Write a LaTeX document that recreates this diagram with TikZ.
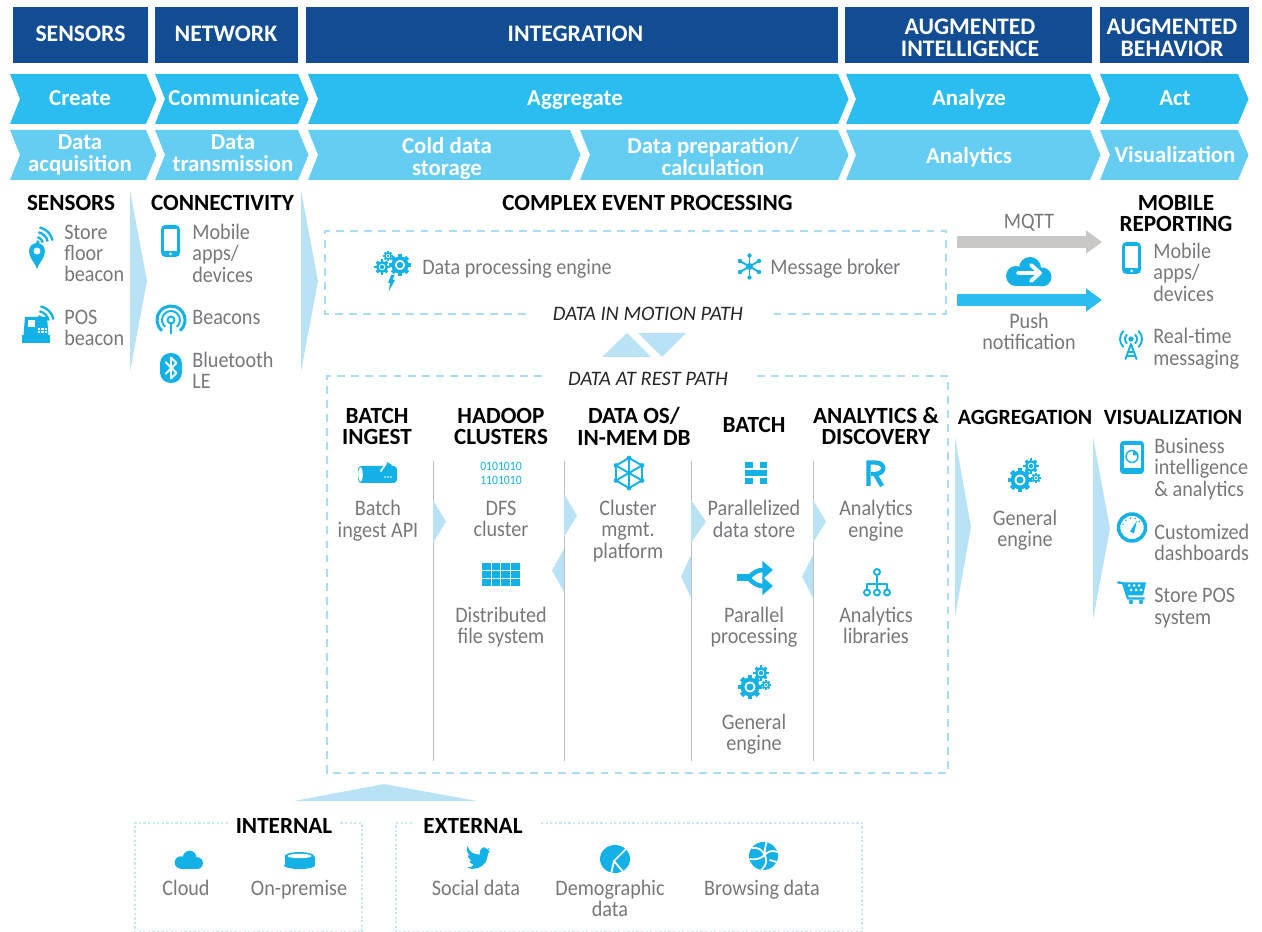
\documentclass[tikz,border=0pt]{standalone}
\usepackage{fontspec}
\setmainfont{Carlito}
\newfontfamily\bodyfont[FakeStretch=.91]{Carlito}
\usetikzlibrary{arrows.meta}
\definecolor{headblue}{HTML}{124C93}
\definecolor{rowblue}{HTML}{2CBDF0}
\definecolor{rowlight}{HTML}{66CDF2}
\definecolor{flowblue}{HTML}{B9E2F5}
\definecolor{dashblue}{HTML}{A9DDF3}
\definecolor{dotblue}{HTML}{C6E7F4}
\definecolor{iconblue}{HTML}{14B1E7}
\definecolor{bodygrey}{HTML}{77787B}
\definecolor{rulegrey}{HTML}{BCBEC0}
\definecolor{mqttgrey}{HTML}{C9C8C6}
\tikzset{
  strutted/.style={execute at begin node=\strut,execute at end node=\strut},
  textdrop/.style={strutted,yshift=-1.7pt},
  headtext/.style={text=white,font=\fontsize{13.5}{12.4}\selectfont\bfseries,align=center,inner sep=0pt,strutted},
  chevtext/.style={text=white,font=\fontsize{13}{12.4}\selectfont\bfseries,align=center,inner sep=0pt,strutted},
  title/.style={text=black,font=\fontsize{13.2}{12.2}\selectfont\bfseries,align=center,inner sep=0pt,textdrop},
  body/.style={text=bodygrey,font=\bodyfont\fontsize{12.6}{12.2}\selectfont,align=center,inner sep=0pt,textdrop},
  bodyleft/.style={body,align=left,anchor=west},
  pathtext/.style={text=black!85,font=\fontsize{11.7}{12.2}\selectfont\itshape,inner sep=0pt,textdrop},
  boxdash/.style={draw=dashblue,line width=1.1pt,dash pattern=on 4.5pt off 3.5pt},
  boxdot/.style={draw=dotblue,line width=.8pt,dash pattern=on 1.3pt off 1.3pt},
  bigarrow/.style={line width=6.8pt,-{Triangle[length=9pt,width=12.6pt]}},
  icon/.style={draw=iconblue,line width=1.1pt,line cap=round,line join=round},
  icontk/.style={icon,line width=1.7pt},
  gearwheel/.pic={
    \draw[icon,line width=#1*.2pt] (0,0) circle[radius=#1*.68];
    \fill[iconblue] (0,0) circle[radius=#1*.32];
    \foreach \a in {0,45,...,315} \draw[iconblue,line width=#1*.24pt] (\a:#1*.7) -- (\a:#1*1.08);
  },
  gearset/.pic={
    \pic at (-4,3) {gearwheel=11};
    \pic at (7,-11) {gearwheel=7};
    \pic at (12,1) {gearwheel=4.5};
  },
  sparkgears/.pic={
    \pic at (7,-5) {gearwheel=10};
    \pic at (-11,-3) {gearwheel=7};
    \pic at (-5,-14) {gearwheel=4.5};
    \fill[iconblue] (-2,5) -- (-5,13) -- (-3,13) -- (-4,21) -- (2,10) -- (-.5,10) -- (1.5,5) -- cycle;
  },
  wifiarcs/.pic={
    \foreach \r in {7,12,17} \draw[icon,line cap=butt,line width=1.3pt] (-78:\r) arc[start angle=-78,end angle=-12,radius=\r];
    \fill[iconblue] (0,0) -- (-78:4) arc[start angle=-78,end angle=-12,radius=4] -- cycle;
  },
  pinmark/.pic={
    \fill[iconblue,even odd rule] (0,14) .. controls (-3,6) and (-8,3) .. (-8,-4) arc[start angle=180,end angle=360,radius=8] .. controls (8,3) and (3,6) .. (0,14) -- cycle (0,-4) circle[radius=3.6];
  },
  register/.pic={
    \fill[iconblue] (-14,5) rectangle (14,13);
    \fill[iconblue] (-12.5,5) -- (-11,-13) -- (11,-13) -- (12.5,5) -- cycle;
    \fill[white] (-8,-10) rectangle (-1,-3);
    \foreach \i in {0,1,2} \foreach \j in {0,1} \fill[white] (2+\i*3.3,-2+\j*3.3) rectangle ++(2.2,2.2);
  },
  phoneshape/.pic={
    \fill[iconblue,rounded corners=2.5pt] (-9.5,-16) rectangle (9.5,16);
    \fill[white] (-6.5,-12) rectangle (6.5,10);
    \fill[white] (0,13) circle[radius=1.5];
  },
  beaconring/.pic={
    \draw[icontk,line cap=butt] (130:14) arc[start angle=130,end angle=410,radius=14];
    \draw[icon,line cap=butt] (130:9) arc[start angle=130,end angle=410,radius=9];
    \draw[icon] (0,0) circle[radius=3.5];
    \draw[icontk,line cap=butt] (0,2) -- (0,14);
  },
  bluetoothtag/.pic={
    \fill[iconblue,rounded corners=6pt] (-11,-15) rectangle (11,15);
    \draw[white,line width=1.1pt,line join=round] (-5.5,-6) -- (5.5,5) -- (0,10.5) -- (0,-10.5) -- (5.5,-5) -- (-5.5,6);
  },
  asterisk/.pic={
    \foreach \a in {30,90,...,330} {\draw[icon] (0,0) -- (\a:11); \fill[iconblue] (\a:11) circle[radius=2.2];}
    \fill[iconblue] (0,0) circle[radius=3.5];
  },
  cloudshape/.pic={
    \fill[iconblue] (-13,4) circle[radius=10];
    \fill[iconblue] (13,5) circle[radius=9.5];
    \fill[iconblue] (1,-4) circle[radius=11];
    \fill[iconblue] (-13,5) rectangle (13,14.5);
  },
  antenna/.pic={
    \draw[icon] (0,-3) -- (-5.5,12) (0,-3) -- (5.5,12) (-3.5,5) -- (3.5,5) (-4.5,9) -- (4.5,9);
    \fill[iconblue] (0,-8) circle[radius=2.7];
    \foreach \r in {6,11} {\draw[icon] (-45:\r)++(0,-8) arc[start angle=-45,end angle=45,radius=\r]; \draw[icon] (135:\r)++(0,-8) arc[start angle=135,end angle=225,radius=\r];}
  },
  pipeicon/.pic={
    \fill[iconblue,rounded corners=2pt] (-19,-8) rectangle (20,9);
    \fill[white] (-16.5,.5) ellipse[x radius=2.3,y radius=7];
    \fill[iconblue] (5,-4) -- (10,-12) -- (15,-9) -- (9,-2) -- cycle;
    \draw[white,line width=1pt] (3.5,-2.5) -- (9.5,-11);
    \foreach \i in {8,11,14} \fill[white] (\i,3) circle[radius=.8];
  },
  gridicon/.pic={
    \foreach \i in {0,1,2,3} \foreach \j in {0,1,2} \fill[iconblue] (-19+\i*9.6,-11.5+\j*8) rectangle ++(8.8,7);
  },
  hexnet/.pic={
    \draw[icon] (90:15) -- (30:15) -- (-30:15) -- (-90:15) -- (-150:15) -- (150:15) -- cycle;
    \draw[icon] (90:15) -- (-90:15) (30:15) -- (-150:15) (-30:15) -- (150:15);
    \foreach \a in {30,90,...,330} \fill[iconblue] (\a:15) circle[radius=2.4];
  },
  storeblock/.pic={
    \fill[iconblue] (-11,-11) rectangle (-3,-5);
    \fill[iconblue] (4,-11) rectangle (11,-5);
    \fill[iconblue] (-11,-2.5) rectangle (11,3);
    \fill[iconblue] (-11,5) rectangle (-3,11);
    \fill[iconblue] (4,5) rectangle (11,11);
  },
  splitarrow/.pic={
    \fill[iconblue] (-19,-3.5) rectangle (-6,3.5);
    \draw[iconblue,line width=2.6pt,-{Triangle[length=6pt,width=10pt]}] (-8,1) .. controls (-3,-6) and (2,-8) .. (17,-8);
    \draw[iconblue,line width=2.6pt,-{Triangle[length=6pt,width=10pt]}] (-8,-1) .. controls (-3,6) and (2,8) .. (17,8);
  },
  rmark/.pic={
    \draw[iconblue,line width=2.5pt] (-6.5,13) -- (-6.5,-10.5) -- (0,-10.5) .. controls (11,-10.5) and (11,1) .. (0,1) -- (-4,1);
    \draw[iconblue,line width=2.5pt] (0,1) -- (7,13);
  },
  treeicon/.pic={
    \draw[icon,line width=1.2pt] (0,-10) -- (0,8) (-10,8) -- (-10,2) -- (10,2) -- (10,8);
    \foreach \p/\q in {0/-10,-10/10.5,0/10.5,10/10.5} \draw[icon,line width=1.1pt,fill=white] (\p,\q) circle[radius=3];
  },
  tableticon/.pic={
    \fill[iconblue,rounded corners=2pt] (-12,-16.5) rectangle (12,16.5);
    \fill[white] (-8.5,-12) rectangle (8.5,10.5);
    \draw[icon,line width=.8pt] (0,-1) circle[radius=6];
    \fill[iconblue] (1,-2) -- (1,-7) arc[start angle=-90,end angle=0,radius=5] -- cycle;
  },
  gaugeicon/.pic={
    \draw[icontk,line width=2pt] (0,0) circle[radius=13.5];
    \foreach \a in {-160,-130,...,-20} \fill[iconblue] (\a:9.5) circle[radius=.9];
    \fill[iconblue] (-2,4) -- (5,-7) -- (2,6) -- cycle;
  },
  carticon/.pic={
    \draw[icon,line width=1.3pt] (-14,-10) -- (-9,-9.5) -- (-4,6) -- (12,6);
    \fill[iconblue] (-8,-10) -- (14,-10) -- (11,3) -- (-4,3) -- cycle;
    \foreach \i/\j in {-3/-7,2/-7,7/-7,-1/-2.5,4/-2.5,9/-2.5} \fill[white] (\i,\j) circle[radius=1.5];
    \fill[iconblue] (-1,9.5) circle[radius=2.2];
    \fill[iconblue] (9,9.5) circle[radius=2.2];
  },
  discicon/.pic={
    \fill[iconblue] (-15,-4) rectangle (15,5);
    \fill[iconblue] (0,-4) ellipse[x radius=15,y radius=4.5];
    \fill[iconblue] (0,5) ellipse[x radius=15.5,y radius=3.5];
    \fill[white] (0,-4.5) ellipse[x radius=12,y radius=2.2];
  },
  birdicon/.pic={
    \fill[iconblue] (-11,-14) .. controls (-9,-7) and (-4,-4) .. (3,-4) .. controls (3,-11) and (8,-16) .. (12,-10) -- (15,-12) -- (13,-8) -- (15,-8) .. controls (12,-6) and (13,0) .. (10,5) .. controls (6,12) and (-5,15) .. (-12,11) .. controls (-7,11) and (-5,10) .. (-4,8) .. controls (-7,7) and (-9,5) .. (-9,3) -- (-6,3) .. controls (-10,1) and (-11,-2) .. (-11,-3) -- (-8,-3) .. controls (-12,-6) and (-13,-10) .. (-11,-14) -- cycle;
  },
  pieicon/.pic={
    \fill[iconblue] (0,0) ellipse[x radius=15,y radius=14];
    \draw[white,line width=1pt] (12,-11) -- (-1,2) -- (9,14) (-1,2) -- (-4,15);
  },
  globeicon/.pic={
    \fill[iconblue] (0,0) ellipse[x radius=14.5,y radius=14];
    \draw[white,line width=1pt] (-12,-8) .. controls (-5,-9) and (-1,-6) .. (1,-1) .. controls (-3,3) and (-8,4) .. (-14,3) (1,-1) .. controls (5,-5) and (9,-6) .. (14,-4) (1,-1) .. controls (4,4) and (3,9) .. (-2,14) (3,-14) .. controls (2,-10) and (1,-5) .. (1,-1) (6,4) -- (13,6);
  },
}
\newcommand{\headbar}[5]{
  \fill[headblue] (#2,7) rectangle (#3,63.5);
  \node[headtext] (#1) at (#4) {#5};
}
\newcommand{\chevron}[6]{
  \fill[#1] (#3,#5) -- (#3+10,#5+25) -- (#3,#5+50) -- (#4,#5+50) -- (#4+10.5,#5+25) -- (#4,#5) -- cycle;
  \node[chevtext] (#2) at #6;
}
\newcommand{\flowtri}[4]{
  \fill[flowblue] (#1,#2) -- (#4,#2/2+#3/2) -- (#1,#3) -- cycle;
}
\begin{document}
\begin{tikzpicture}[x=0.02cm,y=-0.02cm]
    \useasboundingbox (0,0) rectangle (1262,932);
    \headbar{headSensors}{13}{148}{80.5,37}{SENSORS}
    \headbar{headNetwork}{155}{298}{226,37}{NETWORK}
    \headbar{headIntegration}{306}{838}{575.5,37}{INTEGRATION}
    \headbar{headIntelligence}{845}{1092}{970,41}{AUGMENTED\\INTELLIGENCE}
    \headbar{headBehavior}{1100}{1249}{1172,41}{AUGMENTED\\BEHAVIOR}
    \chevron{rowblue}{create}{10}{146}{74}{(80,101) {Create}}
    \chevron{rowblue}{communicate}{155}{298}{74}{(234,101) {Communicate}}
    \chevron{rowblue}{aggregate}{308}{838}{74}{(575,101) {Aggregate}}
    \chevron{rowblue}{analyze}{846}{1090}{74}{(969,101) {Analyze}}
    \chevron{rowblue}{act}{1100}{1238}{74}{(1175,101) {Act}}
    \chevron{rowlight}{acquisition}{10}{146}{130}{(80,156.5) {Data\\acquisition}}
    \chevron{rowlight}{transmission}{155}{298}{130}{(233,156.5) {Data\\transmission}}
    \chevron{rowlight}{coldStorage}{308}{570}{130}{(447,159.5) {Cold data\\storage}}
    \chevron{rowlight}{preparation}{580}{838}{130}{(713,159.5) {Data preparation/\\calculation}}
    \chevron{rowlight}{analytics}{846}{1090}{130}{(969,159) {Analytics}}
    \chevron{rowlight}{visualization}{1100}{1238}{130}{(1175,158) {Visualization}}
    \node[title] (sensorsTitle) at (71,203) {SENSORS};
    \node[title] (connectivityTitle) at (222.5,203) {CONNECTIVITY};
    \node[title] (cepTitle) at (647.5,203) {COMPLEX EVENT PROCESSING};
    \node[title] (mobileTitle) at (1176,213.5) {MOBILE\\REPORTING};
    \node[title,font=\fontsize{12.4}{12.2}\selectfont\bfseries] (aggregationTitle) at (1025,417) {AGGREGATION};
    \node[title,font=\fontsize{12.4}{12.2}\selectfont\bfseries] (visualizationTitle) at (1173,417) {VISUALIZATION};
    \node[title] (batchIngestTitle) at (377,426.5) {BATCH\\INGEST};
    \node[title] (hadoopTitle) at (501,426.5) {HADOOP\\CLUSTERS};
    \node[title] (dataOsTitle) at (634,426.5) {DATA OS/\\IN-MEM DB};
    \node[title] (batchTitle) at (754,425) {BATCH};
    \node[title] (discoveryTitle) at (876,426.5) {ANALYTICS \&\\DISCOVERY};
    \node[title] (internalTitle) at (284,826) {INTERNAL};
    \node[title] (externalTitle) at (473,826) {EXTERNAL};
    \flowtri{130}{190}{372}{147}
    \flowtri{301}{190}{372}{318}
    \flowtri{955}{437}{617}{971}
    \flowtri{1093}{437}{620}{1110}
    \draw[boxdash] (526,314) -- (325,314) -- (325,231) -- (946,231) -- (946,314) -- (771,314);
    \draw[boxdash] (542,376) -- (327,376) -- (327,773) -- (948,773) -- (948,376) -- (752,376);
    \node[pathtext] (motionPath) at (648,313) {DATA IN MOTION PATH};
    \node[pathtext] (restPath) at (648,378) {DATA AT REST PATH};
    \fill[flowblue] (602,357) -- (627,333) -- (651,357) -- cycle;
    \fill[flowblue] (638,333) -- (686,333) -- (662,357) -- cycle;
    \foreach \x in {433,564,691,813} \draw[rulegrey,line width=.55pt] (\x,461) -- (\x,761);
    \flowtri{433}{500}{543}{446}
    \flowtri{564}{494}{537}{577}
    \flowtri{564}{549}{592}{552}
    \flowtri{691}{500}{543}{706}
    \flowtri{691}{555}{598}{681}
    \flowtri{813}{500}{543}{826}
    \flowtri{813}{555}{598}{802}
    \fill[flowblue] (294,801) -- (384,784) -- (477,801) -- cycle;
    \draw[boxdot] (228,823) -- (135,823) -- (135,932) -- (362,932) -- (362,823) -- (339,823);
    \draw[boxdot] (412,823) -- (396,823) -- (396,932) -- (862,932) -- (862,823) -- (540,823);
    \coordinate (mqttStart) at (957,242);
    \coordinate (mqttEnd) at (1102,242);
    \coordinate (pushStart) at (957,300);
    \coordinate (pushEnd) at (1102,300);
    \draw[bigarrow,mqttgrey] (mqttStart) -- (mqttEnd);
    \draw[bigarrow,rowblue] (pushStart) -- (pushEnd);
    \node[body] (mqttLabel) at (1029,221) {MQTT};
    \node[body] (pushLabel) at (1029,331.5) {Push\\notification};
    \node[bodyleft] (storeBeacon) at (64,253.5) {Store\\floor\\beacon};
    \node[bodyleft] (posBeacon) at (64,328) {POS\\beacon};
    \node[bodyleft] (mobileApps) at (192,253.5) {Mobile\\apps/\\devices};
    \node[bodyleft] (beacons) at (192,317) {Beacons};
    \node[bodyleft] (bluetooth) at (192,370.5) {Bluetooth\\LE};
    \node[bodyleft] (processingEngine) at (422,267) {Data processing engine};
    \node[bodyleft] (messageBroker) at (770,267) {Message broker};
    \node[bodyleft] (mobileReport) at (1153,272.5) {Mobile\\apps/\\devices};
    \node[bodyleft] (realTime) at (1153,347) {Real-time\\messaging};
    \node[bodyleft] (businessIntel) at (1154,467.5) {Business\\intelligence\\\& analytics};
    \node[bodyleft] (dashboards) at (1154,542.5) {Customized\\dashboards};
    \node[bodyleft] (storePos) at (1154,606.5) {Store POS\\system};
    \node[body] (generalRight) at (1025,528.5) {General\\engine};
    \node[body] (batchApi) at (378,519) {Batch\\ingest API};
    \node[body] (dfsCluster) at (501,519) {DFS\\cluster};
    \node[body] (fileSystem) at (501,625.5) {Distributed\\file system};
    \node[body] (clusterMgmt) at (628,529.5) {Cluster\\mgmt.\\platform};
    \node[body] (dataStore) at (754,519) {Parallelized\\data store};
    \node[body] (parallelProc) at (754,625.5) {Parallel\\processing};
    \node[body] (generalBatch) at (754,732.5) {General\\engine};
    \node[body] (analyticsEngine) at (876,519) {Analytics\\engine};
    \node[body] (analyticsLibs) at (876,625.5) {Analytics\\libraries};
    \node[body] (cloudLabel) at (186,888) {Cloud};
    \node[body] (premiseLabel) at (299,888) {On-premise};
    \node[body] (socialLabel) at (476,888) {Social data};
    \node[body] (demographicLabel) at (610,898.5) {Demographic\\data};
    \node[body] (browsingLabel) at (762,888) {Browsing data};
    \node[text=iconblue,font=\bodyfont\fontsize{7.3}{7.9}\selectfont,align=center,inner sep=0pt] (binaryLabel) at (501,473) {0101010\\1101010};
    \pic at (36,244) {wifiarcs};
    \pic at (37,255) {pinmark};
    \pic at (36,330) {register};
    \pic at (37,323) {wifiarcs};
    \pic at (170.5,241) {phoneshape};
    \pic at (171,320) {beaconring};
    \pic at (171,368) {bluetoothtag};
    \pic at (393,270) {sparkgears};
    \pic at (749.5,266.5) {asterisk};
    \pic at (1029,272) {cloudshape};
    \draw[white,line width=2.2pt,line cap=round,line join=round] (1018,273) -- (1040,273) (1031,265) -- (1040,273) -- (1031,281);
    \pic at (1131.5,258) {phoneshape};
    \pic at (1131,347) {antenna};
    \pic at (377,474) {pipeicon};
    \pic at (501,574.5) {gridicon};
    \pic at (629,473) {hexnet};
    \pic at (755.5,473) {storeblock};
    \pic at (756,578) {splitarrow};
    \pic at (754,684) {gearset};
    \pic at (875,473) {rmark};
    \pic at (877,582) {treeicon};
    \pic at (1024,477) {gearset};
    \pic at (1132,457.5) {tableticon};
    \pic at (1132,527.5) {gaugeicon};
    \pic at (1132,592.5) {carticon};
    \pic[scale=.62] at (189,860) {cloudshape};
    \pic at (299.5,860.5) {discicon};
    \pic[scale=.85] at (477,858) {birdicon};
    \pic at (615,859) {pieicon};
    \pic at (763.5,856) {globeicon};
\end{tikzpicture}
\end{document}
